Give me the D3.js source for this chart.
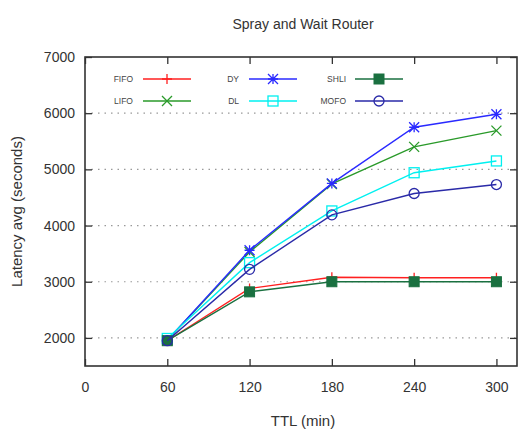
<!DOCTYPE html>
<html><head><meta charset="utf-8">
<script src="https://cdn.jsdelivr.net/npm/d3@7"></script>
<style>body{margin:0;background:#fff}svg{display:block}</style>
</head><body>
<script>
const ttl = [60, 120, 180, 240, 300];
const xTicks = [0, 60, 120, 180, 240, 300];
const yTicks = [2000, 3000, 4000, 5000, 6000, 7000];
const seriesNames = ["FIFO", "LIFO", "DY", "DL", "SHLI", "MOFO"];
const fifo = [1950, 2880, 3080, 3070, 3070];
const lifo = [1960, 3530, 4740, 5400, 5690];
const dy   = [1960, 3560, 4750, 5750, 5980];
const dl   = [1990, 3340, 4260, 4940, 5150];
const shli = [1950, 2820, 3000, 3000, 3000];
const mofo = [1950, 3220, 4190, 4570, 4730];
const title = "Spray and Wait Router";
const xLabel = "TTL (min)";
const yLabel = "Latency avg (seconds)";

const series = [
  {name:"FIFO", values:fifo, color:"#ff2020", marker:"plus"},
  {name:"LIFO", values:lifo, color:"#2a9a2a", marker:"cross"},
  {name:"DY",   values:dy,   color:"#2a2aff", marker:"star"},
  {name:"DL",   values:dl,   color:"#00f0f0", marker:"square"},
  {name:"SHLI", values:shli, color:"#1a7040", marker:"fsquare"},
  {name:"MOFO", values:mofo, color:"#2a2aa8", marker:"circle"}
];

const W = 520, H = 430;
const L = 85, R = 517, T = 57, B = 366;
const svg = d3.select("body").append("svg").attr("width", W).attr("height", H)
  .style("font-family", "'Liberation Sans', Arial, sans-serif");

const x = d3.scaleLinear().domain([0, 315]).range([L, R]);
const y = d3.scaleLinear().domain([1500, 7000]).range([B, T]);

// grid
svg.append("g").selectAll("line").data(yTicks.filter(v => v < 7000)).join("line")
  .attr("x1", L).attr("x2", R).attr("y1", d => y(d)).attr("y2", d => y(d))
  .attr("stroke", "#999").attr("stroke-width", 1.2).attr("stroke-dasharray", "1.5,5");

// axes
const axB = svg.append("g").attr("transform", `translate(0,${B})`)
  .call(d3.axisBottom(x).tickValues(xTicks).tickSize(-7).tickPadding(16).tickFormat(d3.format("d")));
const axT = svg.append("g").attr("transform", `translate(0,${T})`)
  .call(d3.axisTop(x).tickValues(xTicks).tickSize(-7).tickFormat(""));
const axL = svg.append("g").attr("transform", `translate(${L},0)`)
  .call(d3.axisLeft(y).tickValues(yTicks).tickSize(-7).tickPadding(10).tickFormat(d3.format("d")));
const axR = svg.append("g").attr("transform", `translate(${R},0)`)
  .call(d3.axisRight(y).tickValues(yTicks).tickSize(-7).tickFormat(""));
[axB, axT, axL, axR].forEach(a => {
  a.select(".domain").remove();
  a.selectAll(".tick line").attr("stroke", "#333").attr("stroke-width", 1.3);
  a.selectAll("text").attr("fill", "#333").style("font-size", "14px");
});
svg.append("rect").attr("x", L).attr("y", T).attr("width", R - L).attr("height", B - T)
  .attr("fill", "none").attr("stroke", "#333").attr("stroke-width", 1.6);

function drawMarker(g, type, cx, cy, color) {
  const s = 5;
  if (type === "plus") {
    g.append("path").attr("d", `M${cx-s},${cy}H${cx+s}M${cx},${cy-s}V${cy+s}`).attr("stroke", color).attr("stroke-width", 1.3);
  } else if (type === "cross") {
    g.append("path").attr("d", `M${cx-s},${cy-s}L${cx+s},${cy+s}M${cx-s},${cy+s}L${cx+s},${cy-s}`).attr("stroke", color).attr("stroke-width", 1.3);
  } else if (type === "star") {
    g.append("path").attr("d", `M${cx-s},${cy}H${cx+s}M${cx},${cy-s}V${cy+s}M${cx-s},${cy-s}L${cx+s},${cy+s}M${cx-s},${cy+s}L${cx+s},${cy-s}`).attr("stroke", color).attr("stroke-width", 1.3);
  } else if (type === "square") {
    g.append("rect").attr("x", cx-s).attr("y", cy-s).attr("width", 2*s).attr("height", 2*s).attr("fill", "none").attr("stroke", color).attr("stroke-width", 1.3);
  } else if (type === "fsquare") {
    g.append("rect").attr("x", cx-s).attr("y", cy-s).attr("width", 2*s).attr("height", 2*s).attr("fill", color).attr("stroke", color).attr("stroke-width", 1);
  } else if (type === "circle") {
    g.append("circle").attr("cx", cx).attr("cy", cy).attr("r", s).attr("fill", "none").attr("stroke", color).attr("stroke-width", 1.3);
  }
}

const line = d3.line().x((d, i) => x(ttl[i])).y(d => y(d));
series.forEach(s => {
  const g = svg.append("g");
  g.append("path").attr("d", line(s.values)).attr("fill", "none").attr("stroke", s.color).attr("stroke-width", 1.4);
  s.values.forEach((v, i) => drawMarker(g, s.marker, x(ttl[i]), y(v), s.color));
});

// legend
const legCols = [[133, 143, 191], [239, 249, 297], [346, 355, 403]];
const legRows = [79, 101];
const order = [["FIFO", "LIFO"], ["DY", "DL"], ["SHLI", "MOFO"]];
order.forEach((col, ci) => col.forEach((name, ri) => {
  const s = series.find(d => d.name === name);
  const [tx, x1, x2] = legCols[ci];
  const yy = legRows[ri];
  const g = svg.append("g");
  g.append("text").attr("x", tx).attr("y", yy + 3).attr("text-anchor", "end")
    .attr("fill", "#444").style("font-size", "8.5px").text(name);
  g.append("line").attr("x1", x1).attr("x2", x2).attr("y1", yy).attr("y2", yy).attr("stroke", s.color).attr("stroke-width", 1.4);
  drawMarker(g, s.marker, (x1 + x2) / 2, yy, s.color);
}));

svg.append("text").attr("x", 303).attr("y", 29).attr("text-anchor", "middle")
  .attr("fill", "#333").style("font-size", "14px").text(title);
svg.append("text").attr("x", 303).attr("y", 426).attr("text-anchor", "middle")
  .attr("fill", "#333").style("font-size", "15px").text(xLabel);
svg.append("text").attr("transform", `translate(22,${(T + B) / 2}) rotate(-90)`).attr("text-anchor", "middle")
  .attr("fill", "#333").style("font-size", "15px").text(yLabel);
</script>
</body></html>
